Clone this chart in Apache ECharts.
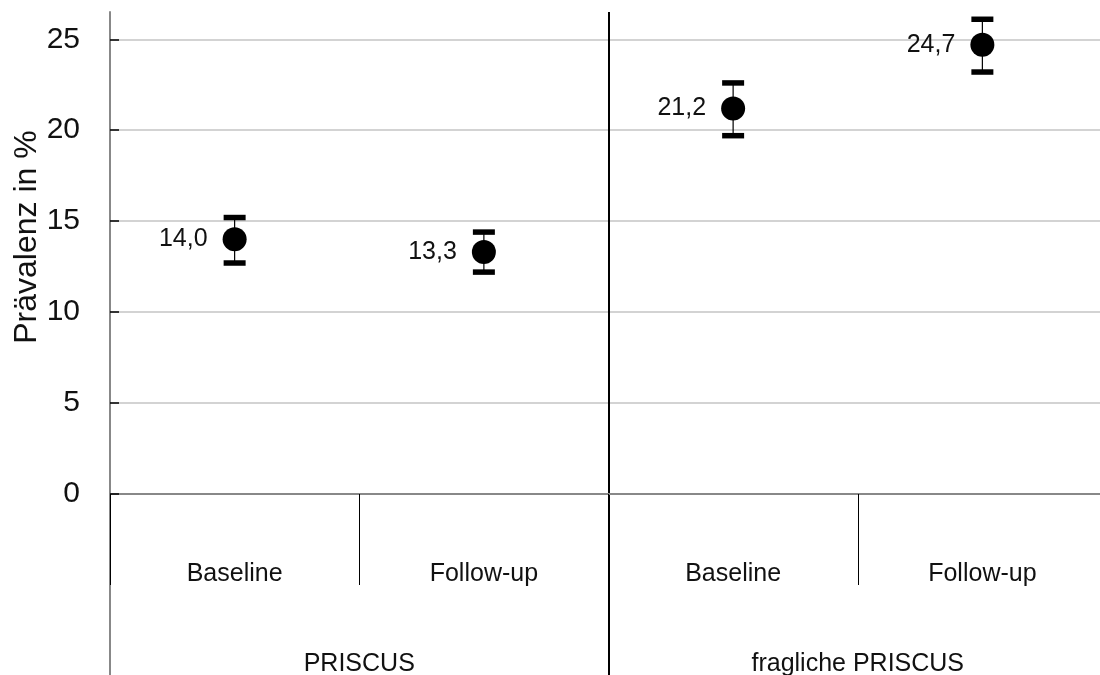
<!DOCTYPE html>
<html>
<head>
<meta charset="utf-8">
<script src="https://cdn.jsdelivr.net/npm/echarts@6/dist/echarts.min.js"></script>
<style>
  html, body { margin: 0; padding: 0; background: #fff; }
  #chart { width: 1100px; height: 675px; }
</style>
</head>
<body>
<div id="chart"></div>
<script>
// Prevalence (%) with confidence intervals, by medication list and time point
const timePoints = ['Baseline', 'Follow-up', 'Baseline', 'Follow-up'];
const groups = ['PRISCUS', 'fragliche PRISCUS'];
const prevalence = [14.0, 13.3, 21.2, 24.7];
const ciLower = [12.7, 12.2, 19.7, 23.2];
const ciUpper = [15.2, 14.4, 22.6, 26.1];
const yTicks = [0, 5, 10, 15, 20, 25];
const yName = 'Prävalenz in %';

const FONT = '"Liberation Sans", Arial, Helvetica, sans-serif';

const chart = echarts.init(document.getElementById('chart'), null, { renderer: 'canvas' });

const pointData = prevalence.map((v, i) => [i, v]);
const ciData = prevalence.map((v, i) => [i, ciLower[i], ciUpper[i]]);

function fmtComma(v) {
  return v.toFixed(1).replace('.', ',');
}

// gray outer frame line, black group divider, gray far edge
const dividerColors = ['#888888', '#000000', '#888888'];

chart.setOption({
  backgroundColor: '#ffffff',
  animation: false,
  grid: [
    { left: 110, top: 12, width: 997, height: 482, outerBoundsMode: 'none', containLabel: false },
    { left: 110, top: 494, width: 997, height: 181, outerBoundsMode: 'none', containLabel: false }
  ],
  xAxis: [
    {
      type: 'category',
      gridIndex: 0,
      data: timePoints,
      boundaryGap: true,
      axisLine: { show: true, lineStyle: { color: '#888888', width: 2 } },
      axisTick: { show: true, interval: 0, length: 91, lineStyle: { color: '#000000', width: 1 } },
      axisLabel: {
        interval: 0, margin: 68, fontSize: 25, color: '#111111', fontFamily: FONT
      },
      splitLine: { show: false }
    },
    {
      // group axis inside the plot: only its boundary lines are drawn
      type: 'category',
      gridIndex: 0,
      data: groups,
      boundaryGap: true,
      position: 'bottom',
      axisLine: { show: false },
      axisTick: { show: false },
      axisLabel: { show: false },
      splitLine: { show: true, interval: 0, lineStyle: { color: dividerColors, width: 2 } }
    },
    {
      // group axis below the time-point labels
      type: 'category',
      gridIndex: 1,
      position: 'top',
      data: groups,
      boundaryGap: true,
      axisLine: { show: false },
      axisTick: { show: false },
      axisLabel: {
        inside: true, interval: 0, margin: 158, fontSize: 25, color: '#111111', fontFamily: FONT
      },
      splitLine: { show: true, interval: 0, lineStyle: { color: dividerColors, width: 2 } }
    }
  ],
  yAxis: [
    {
      type: 'value',
      gridIndex: 0,
      min: 0,
      max: 26.5,
      interval: 5,
      name: yName,
      nameLocation: 'middle',
      nameRotate: 90,
      nameGap: 67,
      nameMoveOverlap: false,
      nameTextStyle: { fontSize: 32, color: '#111111', fontFamily: FONT, padding: [0, 0, 0, 32] },
      axisLine: { show: true, lineStyle: { color: '#888888', width: 2 } },
      axisTick: { show: true, inside: true, length: 9, lineStyle: { color: '#000000', width: 1.5 } },
      axisLabel: {
        margin: 30, fontSize: 30, color: '#111111', fontFamily: FONT,
        showMaxLabel: false,
        formatter: v => (yTicks.indexOf(v) >= 0 ? String(v) : '')
      },
      splitLine: {
        show: true, showMinLine: false, showMaxLine: false,
        lineStyle: { color: '#c4c4c4', width: 1.5 }
      }
    },
    { type: 'value', gridIndex: 1, show: false, min: 0, max: 1 }
  ],
  series: [
    {
      name: 'KI',
      type: 'custom',
      xAxisIndex: 0,
      yAxisIndex: 0,
      data: ciData,
      z: 3,
      renderItem: function (params, api) {
        const x = api.value(0);
        const lo = api.coord([x, api.value(1)]);
        const hi = api.coord([x, api.value(2)]);
        const capW = 22, capH = 5.5;
        return {
          type: 'group',
          children: [
            {
              type: 'line',
              shape: { x1: lo[0], y1: lo[1], x2: hi[0], y2: hi[1] },
              style: { stroke: '#000000', lineWidth: 1.2 }
            },
            {
              type: 'rect',
              shape: { x: hi[0] - capW / 2, y: hi[1] - capH / 2, width: capW, height: capH },
              style: { fill: '#000000' }
            },
            {
              type: 'rect',
              shape: { x: lo[0] - capW / 2, y: lo[1] - capH / 2, width: capW, height: capH },
              style: { fill: '#000000' }
            }
          ]
        };
      }
    },
    {
      name: 'Prävalenz',
      type: 'scatter',
      xAxisIndex: 0,
      yAxisIndex: 0,
      data: pointData,
      symbol: 'circle',
      symbolSize: 24,
      z: 4,
      itemStyle: { color: '#000000', opacity: 1 },
      label: {
        show: true,
        position: 'left',
        distance: 15,
        fontSize: 25,
        color: '#111111',
        opacity: 1,
        fontFamily: FONT,
        formatter: p => fmtComma(p.value[1])
      }
    }
  ]
});
</script>
</body>
</html>
